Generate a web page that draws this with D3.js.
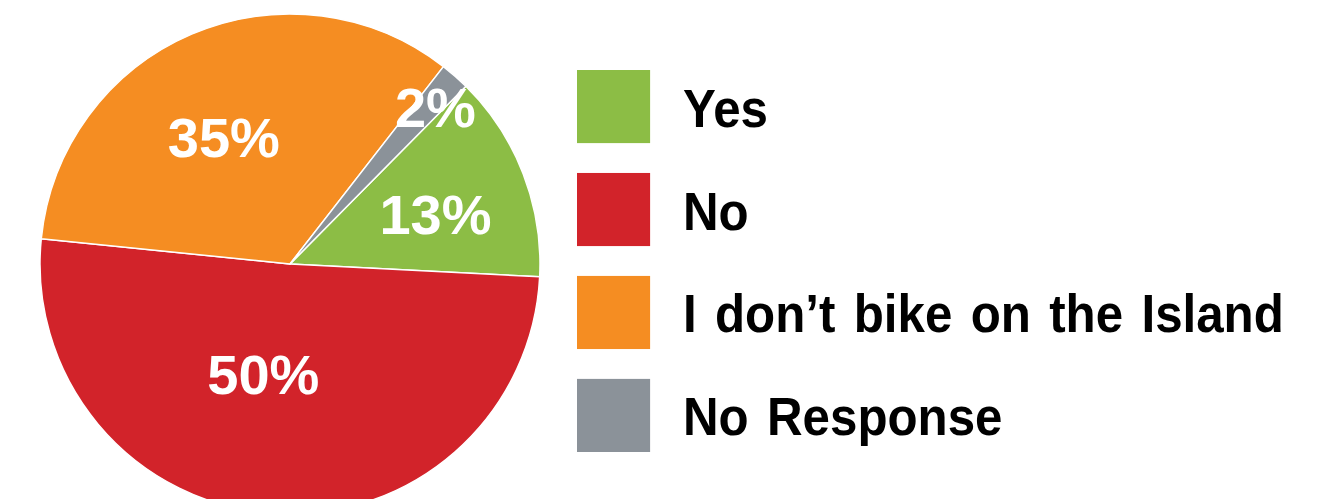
<!DOCTYPE html>
<html>
<head>
<meta charset="utf-8">
<script src="https://cdn.jsdelivr.net/npm/d3@7"></script>
<style>
  html, body { margin: 0; padding: 0; background: #ffffff; overflow: hidden; }
  svg { display: block; }
</style>
</head>
<body>
<svg id="chart" width="1325" height="499"></svg>
<script>
// ---- data ----
const categories = ["Yes", "No", "I don\u2019t bike on the Island", "No Response"];
const shares = [13.4, 50.8, 33.9, 1.9];          // slice sizes
const pctLabels = ["13%", "50%", "35%", "2%"];     // printed labels
const colors = ["#8cbd45", "#d2232a", "#f58d22", "#8b9299"];

// ---- layout (style only) ----
const W = 1325, H = 499;
const cx = 290, cy = 264, R = 250;
const startDeg = 44.7;
const labelRadius = [154, 113, 143, 214];
const labelShiftDeg = [2.0, 9.3, -4.4, 1.5];

const svg = d3.select("#chart");
const rad = d => d * Math.PI / 180;

const pie = d3.pie().sort(null).value(d => d.v)
  .startAngle(rad(startDeg)).endAngle(rad(startDeg) + 2 * Math.PI);
const data = categories.map((c, i) => ({ c, v: shares[i], lab: pctLabels[i], col: colors[i], i }));
const arcs = pie(data);
const arc = d3.arc().innerRadius(0).outerRadius(R);

const g = svg.append("g").attr("transform", `translate(${cx},${cy})`);
g.selectAll("path.slice").data(arcs).join("path")
  .attr("class", "slice")
  .attr("d", arc)
  .attr("fill", d => d.data.col)
  .attr("stroke", "#ffffff")
  .attr("stroke-width", 1.5)
  .attr("stroke-linejoin", "round");

g.selectAll("text.pct").data(arcs).join("text")
  .attr("class", "pct")
  .attr("x", d => {
    const a = (d.startAngle + d.endAngle) / 2 + rad(labelShiftDeg[d.index]);
    return Math.sin(a) * labelRadius[d.index];
  })
  .attr("y", d => {
    const a = (d.startAngle + d.endAngle) / 2 + rad(labelShiftDeg[d.index]);
    return -Math.cos(a) * labelRadius[d.index];
  })
  .attr("dy", "0.36em")
  .attr("text-anchor", "middle")
  .attr("fill", "#ffffff")
  .attr("font-family", "'Liberation Sans', Arial, sans-serif")
  .attr("font-weight", "bold")
  .attr("font-size", 56)
  .text(d => d.data.lab);

// ---- legend ----
const legY = d3.scaleBand().domain(categories).range([70, 452]).paddingInner(0.29).paddingOuter(0);
const sw = legY.bandwidth();
const leg = svg.append("g");
const items = leg.selectAll("g.item").data(data).join("g").attr("class", "item")
  .attr("transform", d => `translate(577,${legY(d.c)})`);
items.append("rect")
  .attr("width", sw).attr("height", sw)
  .attr("fill", d => d.col);
items.append("text")
  .attr("transform", `translate(106,${sw / 2 + 20}) scale(0.93,1)`)
  .attr("fill", "#000000")
  .attr("font-family", "'Liberation Sans', Arial, sans-serif")
  .attr("font-weight", "bold")
  .attr("font-size", 53)
  .attr("word-spacing", 5)
  .text(d => d.c);
</script>
</body>
</html>
